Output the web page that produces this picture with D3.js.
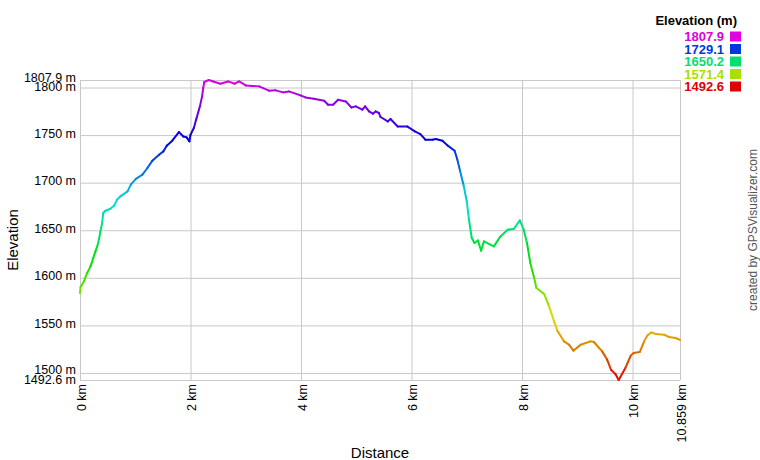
<!DOCTYPE html>
<html><head><meta charset="utf-8">
<script src="https://cdn.jsdelivr.net/npm/d3@7"></script>
<style>
html,body{margin:0;padding:0;background:#fff;}
svg{display:block;font-family:"Liberation Sans",Arial,sans-serif;}
</style></head>
<body>
<svg id="chart" width="760" height="460"></svg>
<script>
// ---- data ----
const distKm = [0.00,0.01,0.07,0.13,0.19,0.24,0.28,0.33,0.37,0.40,0.42,0.46,0.55,0.62,0.67,0.73,0.86,0.92,1.01,1.13,1.22,1.31,1.43,1.51,1.57,1.67,1.79,1.87,1.93,1.98,2.00,2.06,2.11,2.17,2.21,2.23,2.25,2.33,2.41,2.54,2.68,2.80,2.88,3.00,3.24,3.42,3.54,3.68,3.78,3.99,4.08,4.23,4.42,4.49,4.58,4.67,4.81,4.91,4.99,5.11,5.16,5.23,5.30,5.35,5.41,5.44,5.57,5.62,5.75,5.92,6.06,6.16,6.25,6.38,6.44,6.56,6.65,6.78,6.83,6.88,6.94,7.00,7.04,7.09,7.14,7.20,7.26,7.31,7.49,7.61,7.74,7.85,7.96,8.03,8.09,8.15,8.22,8.26,8.40,8.49,8.58,8.64,8.76,8.85,8.93,9.06,9.24,9.30,9.45,9.54,9.61,9.69,9.75,9.87,9.97,10.02,10.13,10.21,10.27,10.34,10.42,10.57,10.66,10.78,10.859];
const elevM = [1584.0,1590.4,1596.2,1605.1,1612.0,1620.8,1627.8,1636.6,1648.8,1657.6,1668.1,1670.5,1672.6,1676.1,1682.1,1685.6,1690.8,1697.9,1703.9,1708.4,1715.4,1723.1,1729.4,1732.9,1738.9,1744.1,1753.2,1748.6,1747.6,1743.4,1750.4,1757.5,1767.9,1780.2,1790.7,1799.5,1805.8,1807.9,1806.4,1804.0,1806.4,1804.0,1806.4,1802.2,1801.2,1796.7,1797.0,1794.9,1795.9,1791.7,1789.6,1788.2,1786.1,1781.9,1781.9,1787.2,1785.4,1779.1,1780.2,1776.7,1780.2,1774.9,1772.5,1774.9,1773.2,1769.0,1764.4,1766.9,1759.1,1759.1,1753.9,1751.1,1745.2,1745.2,1745.9,1744.1,1739.2,1733.6,1724.1,1711.9,1697.9,1680.3,1661.1,1641.8,1636.6,1639.3,1628.5,1638.3,1633.0,1643.5,1650.6,1651.3,1660.3,1650.6,1636.6,1615.6,1599.8,1589.3,1583.0,1570.0,1554.2,1544.4,1533.2,1529.7,1523.4,1529.7,1533.2,1532.5,1522.7,1514.0,1503.4,1498.9,1492.6,1505.2,1518.4,1521.0,1522.0,1533.2,1539.5,1542.6,1541.0,1540.2,1537.8,1536.7,1534.7];
const elevMin = 1492.6, elevMax = 1807.9, distMax = 10.859;
const yTickValues = [1492.6,1500,1550,1600,1650,1700,1750,1800,1807.9];
const xTickValues = [0,2,4,6,8,10,10.859];
const legendValues = [1807.9,1729.1,1650.2,1571.4,1492.6];
const legendTitle = "Elevation (m)";
const xTitle = "Distance", yTitle = "Elevation";
const credit = "created by GPSVisualizer.com";

// ---- layout ----
const svg = d3.select("#chart");
const m = {left:80, top:80}, W = 600, H = 300;
const x = d3.scaleLinear().domain([0, distMax]).range([0, W]);
const y = d3.scaleLinear().domain([elevMin, elevMax]).range([H, 0]);
const color = e => d3.hsl(300*(e-elevMin)/(elevMax-elevMin), 1, 0.44).formatHex();
const fmt = v => (Number.isInteger(v) ? v : v.toFixed(v===distMax?3:1));

const g = svg.append("g").attr("transform", `translate(${m.left},${m.top})`);
const grid = "#c8c8c8";

// y axis with gridlines
const yAx = g.append("g").call(d3.axisLeft(y).tickValues(yTickValues).tickSize(-W).tickPadding(4)
  .tickFormat(v => fmt(v) + " m"));
yAx.select(".domain").remove();
yAx.selectAll("line").attr("stroke", grid);
yAx.selectAll("text").attr("fill","#000").style("font-size","12.5px").attr("dy", null);
// label baselines, spread apart where too close
const yl = yTickValues.map(v => ({v, b: y(v) + 2}));
yl.sort((a,b)=>a.b-b.b);
for (let i=0;i<yl.length-1;i++){
  if (yl[i+1].b - yl[i].b < 9.5){
    const mid = (yl[i].b + yl[i+1].b)/2;
    yl[i].b = mid - 4.75; yl[i+1].b = mid + 4.75;
  }
}
yAx.selectAll(".tick").each(function(d){
  const o = yl.find(q=>q.v===d);
  d3.select(this).select("text").attr("y", o.b - y(d));
});

// x axis with gridlines
const xAx = g.append("g").attr("transform",`translate(0,${H})`)
  .call(d3.axisBottom(x).tickValues(xTickValues).tickSize(-H).tickFormat(v => fmt(v) + " km"));
xAx.select(".domain").remove();
xAx.selectAll("line").attr("stroke", grid);
xAx.selectAll("text").attr("fill","#000").style("font-size","12.5px")
  .attr("transform","rotate(-90)").attr("text-anchor","end")
  .attr("x",-4).attr("y",5).attr("dy",null);

// coloured profile line
const pts = distKm.map((d,i)=>[d, elevM[i]]);
const lg = g.append("g").attr("fill","none").attr("stroke-width",2).attr("stroke-linejoin","round").attr("stroke-linecap","round");
for (let i=0;i<pts.length-1;i++){
  const a = pts[i], b = pts[i+1];
  lg.append("path")
    .attr("d", d3.line()([[x(a[0]),y(a[1])],[x(b[0]),y(b[1])]]))
    .attr("stroke", color((a[1]+b[1])/2));
}

// axis titles
svg.append("text").attr("x",380).attr("y",458).attr("text-anchor","middle")
  .style("font-size","15px").text(xTitle);
svg.append("text").attr("transform","translate(18,240) rotate(-90)").attr("text-anchor","middle")
  .style("font-size","15px").text(yTitle);

// credit
svg.append("text").attr("transform","translate(757,230) rotate(-90)").attr("text-anchor","middle")
  .attr("fill","#555").style("font-size","12px").text(credit);

// legend
svg.append("text").attr("x",737).attr("y",25).attr("text-anchor","end")
  .style("font-size","13px").style("font-weight","bold").text(legendTitle);
const leg = svg.append("g");
legendValues.forEach((v,i)=>{
  const by = 41 + i*12.5;
  leg.append("text").attr("x",724).attr("y",by).attr("text-anchor","end")
    .style("font-size","13px").style("font-weight","bold").attr("fill",color(v)).text(v.toFixed(1));
  leg.append("rect").attr("x",730).attr("y",by-9.5).attr("width",11).attr("height",10).attr("fill",color(v));
});
</script>
</body></html>
